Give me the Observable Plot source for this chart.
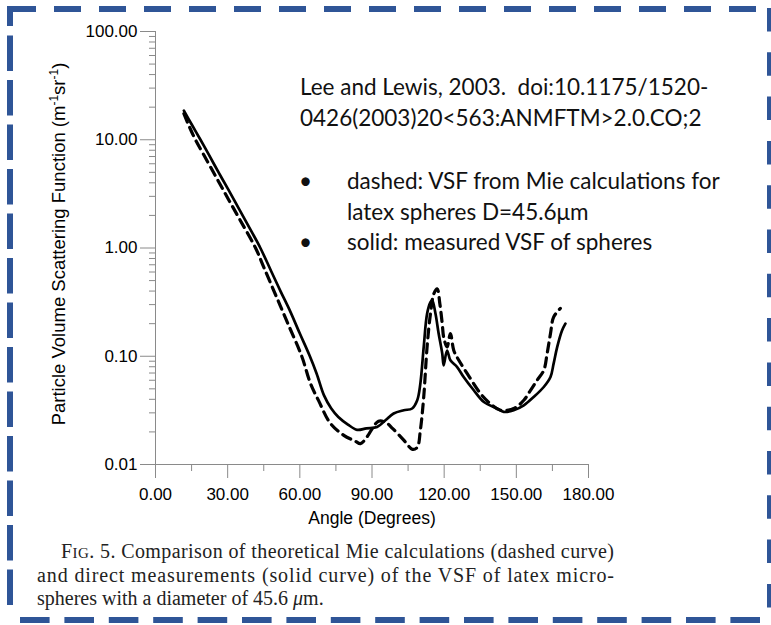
<!DOCTYPE html>
<html><head><meta charset="utf-8">
<script src="https://cdn.jsdelivr.net/npm/d3@7"></script>
<script src="https://cdn.jsdelivr.net/npm/@observablehq/plot@0.6"></script>
<style>
html,body{margin:0;padding:0;background:#fff;}
#wrap{position:relative;width:771px;height:625px;overflow:hidden;background:#fff;}
#chart{position:absolute;left:0;top:0;}
#overlay{position:absolute;left:0;top:0;}
</style></head>
<body><div id="wrap"><div id="chart"></div><svg id="overlay" width="771" height="625"></svg></div>
<script>
// ---- data ----
const solidAngle = [11.8, 15.0, 18.7, 22.0, 26.0, 30.0, 35.0, 40.0, 43.6, 48.0, 52.0, 56.0, 60.0, 64.0, 67.0, 70.0, 73.0, 76.0, 80.0, 83.8, 87.7, 92.1, 95.6, 99.0, 103.2, 106.7, 108.8, 110.1, 111.5, 112.9, 114.3, 115.0, 116.4, 117.7, 119.2, 119.8, 121.2, 122.6, 125.4, 128.1, 132.3, 136.5, 142.0, 144.8, 148.9, 153.1, 157.2, 161.4, 164.2, 165.5, 167.0, 169.0, 170.4];
const solidVSF = [18.6, 13.9, 10.0, 7.4, 5.1, 3.55, 2.24, 1.41, 1.0, 0.617, 0.398, 0.26, 0.162, 0.102, 0.069, 0.0437, 0.0331, 0.0275, 0.0234, 0.0209, 0.0216, 0.0222, 0.0256, 0.0296, 0.0317, 0.0329, 0.0392, 0.0559, 0.122, 0.247, 0.316, 0.33, 0.247, 0.162, 0.106, 0.0824, 0.113, 0.0917, 0.0795, 0.0643, 0.0485, 0.0378, 0.0329, 0.0306, 0.0317, 0.0352, 0.042, 0.052, 0.0643, 0.0855, 0.122, 0.173, 0.2];
const dashedAngle = [11.8, 14.0, 16.6, 20.0, 25.0, 30.0, 35.0, 41.6, 45.0, 50.0, 55.0, 60.8, 64.4, 67.8, 72.7, 78.3, 83.1, 85.2, 88.1, 90.2, 92.7, 95.6, 98.5, 103.2, 106.8, 108.8, 110.1, 111.5, 112.9, 114.3, 115.7, 117.1, 118.2, 119.2, 119.8, 121.2, 122.6, 124.0, 126.1, 129.6, 135.1, 139.2, 143.4, 148.9, 153.1, 155.9, 158.6, 161.4, 162.8, 164.2, 165.5, 168.3];
const dashedVSF = [17.4, 13.3, 10.0, 7.3, 4.6, 2.9, 1.84, 1.0, 0.665, 0.366, 0.201, 0.1, 0.0562, 0.0389, 0.024, 0.0186, 0.0164, 0.0156, 0.0182, 0.0216, 0.0251, 0.0246, 0.0216, 0.0168, 0.0138, 0.0144, 0.0207, 0.042, 0.122, 0.247, 0.378, 0.42, 0.306, 0.2, 0.150, 0.122, 0.162, 0.113, 0.0917, 0.0691, 0.0452, 0.0365, 0.0317, 0.0329, 0.0392, 0.0485, 0.0599, 0.0741, 0.106, 0.162, 0.23, 0.277];

const xTicks = [0, 30, 60, 90, 120, 150, 180];
const xMinorTicks = [15, 45, 75, 105, 135, 165];
const yTicks = [0.01, 0.1, 1, 10, 100];
const yMinorMultipliers = [2, 3, 4, 5, 6, 7, 8, 9];

const xTitle = "Angle (Degrees)";
const yTitle = "Particle Volume Scattering Function (m-1sr-1)";
const noteLines = ["Lee and Lewis, 2003.  doi:10.1175/1520-", "0426(2003)20<563:ANMFTM>2.0.CO;2"];
const bulletLines = [["dashed: VSF from Mie calculations for", "latex spheres D=45.6\u03BCm"], ["solid: measured VSF of spheres"]];
const captionLines = ["Comparison of theoretical Mie calculations (dashed curve)", "and direct measurements (solid curve) of the VSF of latex micro-", "spheres with a diameter of 45.6 "];

// ---- build tables ----
const solid = solidAngle.map((a, i) => ({angle: a, vsf: solidVSF[i]}));
const dashed = dashedAngle.map((a, i) => ({angle: a, vsf: dashedVSF[i]}));
const yMinorTicks = yTicks.slice(0, -1).flatMap(d => yMinorMultipliers.map(m => +(d * m).toPrecision(3)));

const axisGray = "#8a8a8a";
const chart = Plot.plot({
  width: 771,
  height: 530,
  marginLeft: 155,
  marginRight: 183,
  marginTop: 31,
  marginBottom: 66,
  style: {fontFamily: "Liberation Sans, Arial, sans-serif", fontSize: "17px", background: "transparent", color: "#000"},
  x: {domain: [0, 180]},
  y: {type: "log", domain: [0.01, 100]},
  marks: [
    Plot.ruleX([0], {stroke: axisGray, strokeWidth: 1}),
    Plot.ruleY([0.01], {stroke: axisGray, strokeWidth: 1}),
    Plot.axisX(xTicks, {tickSize: 14, tickPadding: 9, tickFormat: d => d.toFixed(2), stroke: axisGray, fill: "#000", label: null}),
    Plot.axisX(xMinorTicks, {tickSize: 7, tickFormat: () => "", stroke: axisGray, label: null}),
    Plot.axisY(yTicks, {tickSize: 15, tickPadding: 3, tickFormat: d => d.toFixed(2), stroke: axisGray, fill: "#000", label: null}),
    Plot.axisY(yMinorTicks, {tickSize: 6, tickFormat: () => "", stroke: axisGray, label: null}),
    Plot.line(dashed, {x: "angle", y: "vsf", stroke: "#000", strokeWidth: 3.2, strokeDasharray: "9,6", curve: "catmull-rom"}),
    Plot.line(solid, {x: "angle", y: "vsf", stroke: "#000", strokeWidth: 2.7, curve: "catmull-rom"}),
    Plot.text([xTitle], {text: d => d, frameAnchor: "bottom", dy: 54, textAnchor: "middle", lineAnchor: "middle", fontSize: 17.5, fill: "#000"}),
    Plot.text([yTitle], {text: d => d, frameAnchor: "left", rotate: -90, dx: -96, dy: -4, textAnchor: "middle", lineAnchor: "middle", fontSize: 18.5, fill: "#000"})
  ]
});
document.getElementById("chart").appendChild(chart);

// superscripts in the y title
const yt = [...chart.querySelectorAll("text")].find(t => t.textContent === yTitle);
if (yt) {
  yt.textContent = "";
  const parts = [["Particle Volume Scattering Function (m", 0], ["-1", 1], ["sr", 0], ["-1", 1], [")", 0]];
  let prevSup = 0;
  for (const [s, sup] of parts) {
    const ts = document.createElementNS("http://www.w3.org/2000/svg", "tspan");
    ts.textContent = s;
    if (sup) { ts.setAttribute("font-size", "12"); ts.setAttribute("dy", "-7"); }
    else if (prevSup) { ts.setAttribute("dy", "7"); }
    prevSup = sup;
    yt.appendChild(ts);
  }
}

// ---- overlay: notes, caption, dashed frame ----
const ov = d3.select("#overlay");
const noteFont = "Lato, 'Open Sans', sans-serif";
noteLines.forEach((s, i) => {
  ov.append("text").attr("x", 300).attr("y", 95 + i * 31)
    .style("font-family", noteFont).style("font-size", "22.5px").style("white-space", "pre")
    .attr("fill", "#111").text(s);
});
let by = 189;
bulletLines.forEach(lines => {
  ov.append("text").attr("x", 299).attr("y", by).style("font-family", noteFont).style("font-size", "22.5px").attr("fill", "#111").text("\u2022");
  lines.forEach(s => {
    ov.append("text").attr("x", 347).attr("y", by)
      .style("font-family", noteFont).style("font-size", "22.5px").attr("fill", "#111").text(s);
    by += 30.5;
  });
});

const capFont = "'Liberation Serif', 'Times New Roman', serif";
const c1 = ov.append("text").attr("x", 61).attr("y", 558).attr("textLength", 553).attr("lengthAdjust", "spacing")
  .style("font-family", capFont).style("font-size", "20px").attr("fill", "#222");
c1.append("tspan").text("F");
c1.append("tspan").style("font-size", "15px").text("IG");
c1.append("tspan").text(". 5. " + captionLines[0]);
ov.append("text").attr("x", 37).attr("y", 581.5).attr("textLength", 577).attr("lengthAdjust", "spacing")
  .style("font-family", capFont).style("font-size", "20px").attr("fill", "#222").text(captionLines[1]);
const c3 = ov.append("text").attr("x", 37).attr("y", 605)
  .style("font-family", capFont).style("font-size", "20px").attr("fill", "#222").style("white-space", "pre");
c3.append("tspan").text(captionLines[2]);
c3.append("tspan").style("font-style", "italic").text("\u03BC");
c3.append("tspan").text("m.");

// dashed blue frame
const blue = "#2F5597";
const seg = (x1, y1, x2, y2, w, dash) => ov.append("line").attr("x1", x1).attr("y1", y1).attr("x2", x2).attr("y2", y2)
  .attr("stroke", blue).attr("stroke-width", w).attr("stroke-dasharray", dash || null);
seg(9, 9, 771, 9, 6, "27 18");           // top
seg(10, 6, 10, 26, 6);                     // corner
seg(10, 35.6, 10, 612, 6, "35.5 9");       // left
seg(20, 620, 771, 620, 6, "29.6 14.8");    // bottom
seg(769.5, 8, 769.5, 612, 5, "23.5 20.8"); // right
</script></body></html>
